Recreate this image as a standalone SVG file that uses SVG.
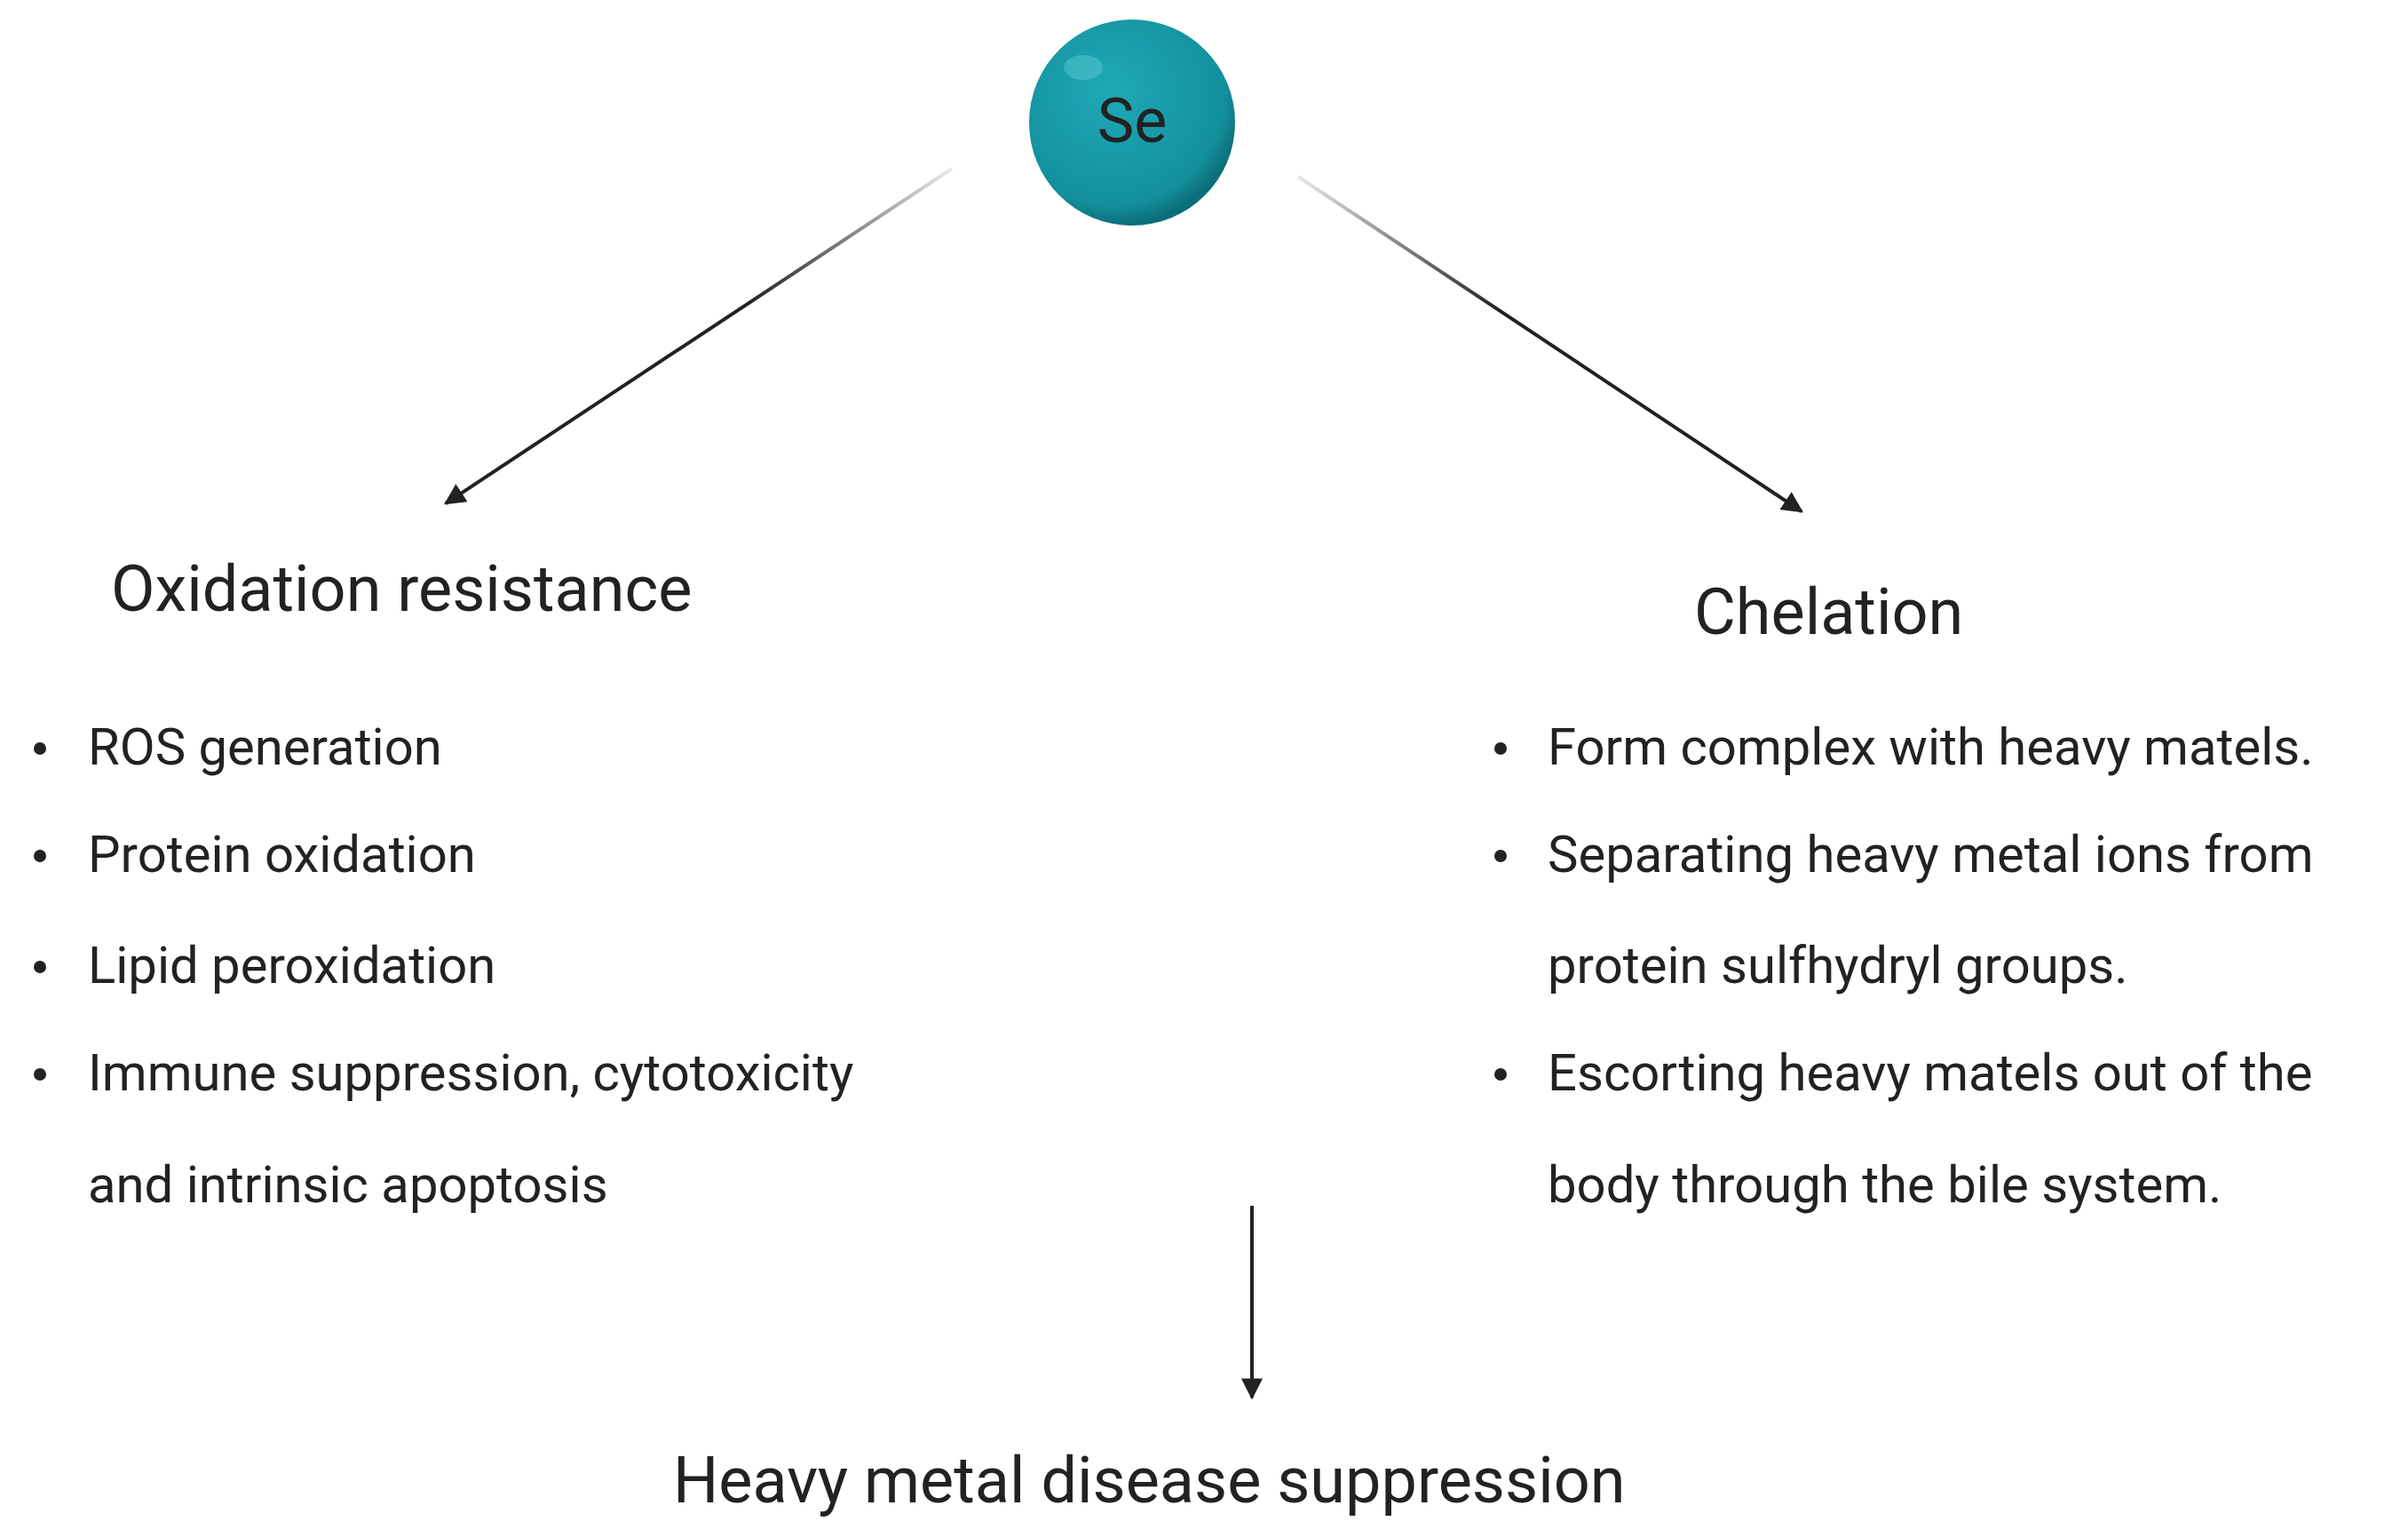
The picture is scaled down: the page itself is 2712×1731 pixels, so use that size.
<svg xmlns="http://www.w3.org/2000/svg" width="2712" height="1731" viewBox="0 0 2712 1731">
<style>
text{font-family:Roboto,"Liberation Sans",sans-serif;fill:#222}
.h{font-size:72px}
.b{font-size:58px}
.c{stroke:#222;stroke-width:4;fill:none}
</style>
<defs>
<marker id="ah" viewBox="0 0 10 10" refX="9" refY="5" markerWidth="7" markerHeight="7" markerUnits="userSpaceOnUse" orient="auto"><path d="M0,0L10,5L0,10z" fill="#222"/></marker>
<marker id="ah2" viewBox="0 0 10 10" refX="9" refY="5" markerWidth="6" markerHeight="6" orient="auto"><path d="M0,0L10,5L0,10z" fill="#222"/></marker>
<linearGradient id="gl" gradientUnits="userSpaceOnUse" x1="1072" y1="190" x2="502" y2="567"><stop offset="0" stop-color="#222" stop-opacity="0.1"/><stop offset="0.4" stop-color="#222"/></linearGradient>
<linearGradient id="gr" gradientUnits="userSpaceOnUse" x1="1462" y1="199" x2="2029" y2="576"><stop offset="0" stop-color="#222" stop-opacity="0.1"/><stop offset="0.4" stop-color="#222"/></linearGradient>
<radialGradient id="se" cx="0.4" cy="0.35" r="0.65"><stop offset="0" stop-color="#1fa9b6"/><stop offset="0.85" stop-color="#138f9c"/><stop offset="1" stop-color="#0b6f7a"/></radialGradient>
</defs>
<rect width="2712" height="1731" fill="#fff"/>
<g id="connectors">
<line x1="1072" y1="190" x2="502" y2="567" stroke="url(#gl)" stroke-width="4" marker-end="url(#ah2)"/>
<line x1="1462" y1="199" x2="2029" y2="576" stroke="url(#gr)" stroke-width="4" marker-end="url(#ah2)"/>
<line x1="1410" y1="1358" x2="1410" y2="1574" class="c" marker-end="url(#ah2)"/>
</g>
<g id="se-node">
<circle cx="1275" cy="138" r="116" fill="url(#se)"/>
<ellipse cx="1220" cy="76" rx="22" ry="14" fill="#4cc3cc" opacity="0.6"/>
<text x="1275" y="160" font-size="70" text-anchor="middle">Se</text>
</g>
<g id="oxidation">
<text class="h" x="125" y="688">Oxidation resistance</text>
<g class="b">
<circle cx="45" cy="843" r="7" fill="#222"/><text class="b" x="99" y="861">ROS generation</text>
<circle cx="45" cy="964" r="7" fill="#222"/><text class="b" x="99" y="982">Protein oxidation</text>
<circle cx="45" cy="1089" r="7" fill="#222"/><text class="b" x="99" y="1107">Lipid peroxidation</text>
<circle cx="45" cy="1210" r="7" fill="#222"/><text class="b" x="99" y="1228">Immune suppression, cytotoxicity</text>
<text class="b" x="99" y="1354">and intrinsic apoptosis</text>
</g>
</g>
<g id="chelation">
<text class="h" x="1908" y="714">Chelation</text>
<circle cx="1690" cy="843" r="7" fill="#222"/><text class="b" x="1743" y="861">Form complex with heavy matels.</text>
<circle cx="1690" cy="964" r="7" fill="#222"/><text class="b" x="1743" y="982">Separating heavy metal ions from</text>
<text class="b" x="1743" y="1107">protein sulfhydryl groups.</text>
<circle cx="1690" cy="1210" r="7" fill="#222"/><text class="b" x="1743" y="1228">Escorting heavy matels out of the</text>
<text class="b" x="1743" y="1354">body through the bile system.</text>
</g>
<g id="result">
<text class="h" x="758" y="1692">Heavy metal disease suppression</text>
</g>
</svg>
